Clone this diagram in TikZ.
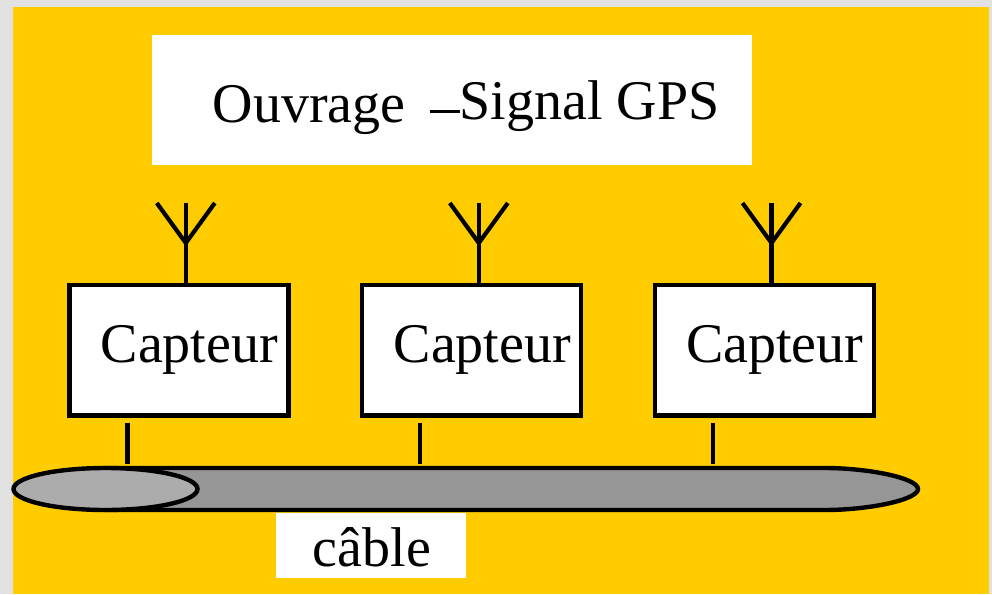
\documentclass[tikz,border=0pt]{standalone}
\usepackage{fontspec}
\usetikzlibrary{shapes.geometric}
\setmainfont{Liberation Serif}
\definecolor{pagegrey}{RGB}{225,225,225}
\definecolor{amber}{RGB}{255,204,0}
\definecolor{cablegrey}{RGB}{150,150,150}
\definecolor{endgrey}{RGB}{172,172,172}
\tikzset{
  bigtext/.style={font=\fontsize{56}{60}\selectfont, inner sep=0pt, anchor=base west, text=black},
  sensorbox/.style={draw=black, fill=white, line width=4.4pt, minimum width=219pt, minimum height=130.5pt, inner sep=0pt, outer sep=0pt},
  whitepanel/.style={fill=white, inner sep=0pt, outer sep=0pt},
  wire/.style={draw=black, line width=4.4pt, line cap=butt},
  antenna/.style={draw=black, line width=4.2pt, line cap=butt, line join=miter}
}
\begin{document}
\begin{tikzpicture}[x=1pt,y=-1pt]
\useasboundingbox (0,0) rectangle (992,594);
\fill[pagegrey] (0,0) rectangle (992,594);
\fill[amber] (13,7) rectangle (989,594);
% panels
\node[whitepanel, minimum width=600pt, minimum height=130pt] (panel) at (452,100) {};
\node[whitepanel, minimum width=190pt, minimum height=65.5pt] (cablepanel) at (371,545.3) {};
% texts in the top panel
\node[bigtext] (ouvrage) at (212.5,122) {Ouvrage};
\node[bigtext] (signal) at (459.5,119) {Signal GPS};
\coordinate (dashA) at (430,111.7);
\draw[black, line width=2.8pt] (dashA) -- (signal.base west |- dashA);
% sensors
\foreach \n/\bx/\sx/\tx/\lx in {a/179/185.8/127.5/100.5, b/471.7/478.8/420/393.5, c/764.2/771.5/713/686}{
  \node[sensorbox] (box\n) at (\bx,350.3) {};
  \node[bigtext] (label\n) at (\lx,362) {Capteur};
  \coordinate (fork\n) at (\sx,243);
  \coordinate (tip\n) at (\sx,203);
  \coordinate (left\n) at (\sx-29,203);
  \coordinate (right\n) at (\sx+29,203);
  \draw[antenna] (fork\n |- box\n.north) -- (tip\n);
  \draw[antenna] (left\n) -- (fork\n) -- (right\n);
  \coordinate (tick\n) at (\tx,423);
  \coordinate (tap\n) at (\tx,464);
  \draw[wire] (tick\n) -- (tap\n);
}
% cable
\draw[black, line width=4.4pt, fill=cablegrey]
  (105.5,468) -- (825,468)
  .. controls (868,468) and (918,478) .. (918,489)
  .. controls (918,500) and (868,510) .. (825,510)
  -- (105.5,510) -- cycle;
\node[draw=black, line width=4.4pt, fill=endgrey, ellipse, minimum width=184pt, minimum height=42pt, inner sep=0pt, outer sep=0pt] (cableend) at (105.5,489) {};
\node[bigtext] (cablelabel) at (312.5,566) {câble};
\end{tikzpicture}
\end{document}
